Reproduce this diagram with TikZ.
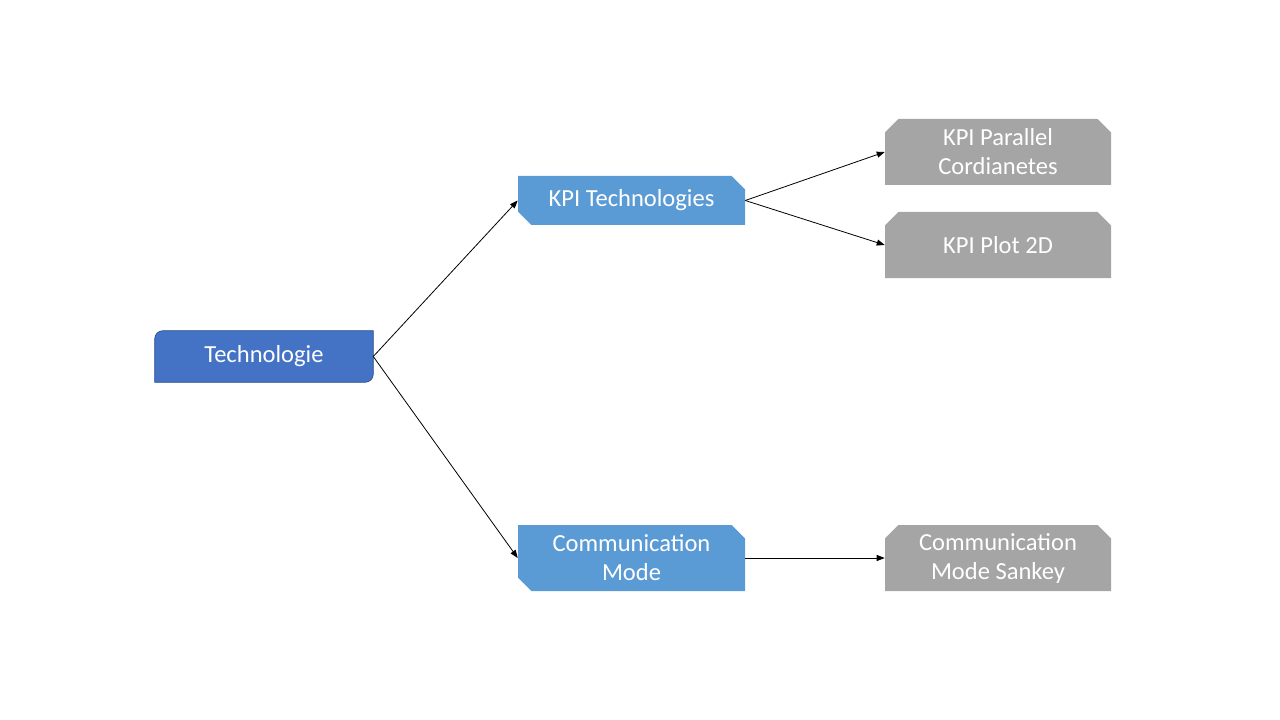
\documentclass[tikz,border=0pt]{standalone}
\usepackage{fontspec}
\setmainfont{Carlito}
\usetikzlibrary{arrows.meta}
\usetikzlibrary{backgrounds}
\usepgflibrary{shapes.misc}
\definecolor{techblue}{HTML}{4472C4}
\definecolor{techedge}{HTML}{2F528F}
\definecolor{kpiblue}{HTML}{5B9BD5}
\definecolor{plotgray}{HTML}{A5A5A5}
\def\bw{227}
\def\bh{66}
\def\rr{6pt}
\tikzset{
    label text/.style = {
        text=white, align=center, font=\fontsize{18.4}{21.75}\selectfont, inner sep=0pt
    },
    Root/.style = {
        label text, minimum width=218*0.75pt, minimum height=51*0.75pt
    },
    Category/.style = {
        label text, chamfered rectangle, chamfered rectangle corners={north east, south west},
        chamfered rectangle xsep=0pt, chamfered rectangle ysep=0pt, chamfered rectangle sep=5pt,
        fill=kpiblue, minimum width=\bw*0.75pt
    },
    Chart/.style = {
        label text, chamfered rectangle, chamfered rectangle corners={north east, north west},
        chamfered rectangle xsep=0pt, chamfered rectangle ysep=0pt, chamfered rectangle sep=5pt,
        fill=plotgray, minimum width=226*0.75pt, minimum height=\bh*0.75pt
    },
    link/.style = {
        -{Triangle[length=6pt,width=4.5pt]}, line width=0.6pt
    },
}

\begin{document}
\begin{tikzpicture}[x=0.75pt, y=-0.75pt]
        \useasboundingbox (0,0) rectangle (1280,720);

        % Place the blocks
        \node[Root] (tech) at (264,356.5) {Technologie};
        \node[Category, minimum height=49*0.75pt] (kpitech) at (631.5,200.5) {KPI Technologies};
        \node[Category, minimum height=\bh*0.75pt] (commmode) at (631.5,558) {Communication\\Mode};
        \node[Chart] (parallel) at (998,152) {KPI Parallel\\Cordianetes};
        \node[Chart] (plot) at (998,245) {KPI Plot 2D};
        \node[Chart] (sankey) at (998,558) {Communication\\Mode Sankey};

        % Root box with two rounded corners
        \begin{scope}[on background layer]
            \filldraw[fill=techblue, draw=techedge, line width=0.5pt]
                ([xshift=\rr]tech.north west) -- (tech.north east)
                -- ([yshift=\rr]tech.south east) arc[start angle=0, end angle=-90, radius=\rr]
                -- (tech.south west)
                -- ([yshift=-\rr]tech.north west) arc[start angle=180, end angle=90, radius=\rr]
                -- cycle;
        \end{scope}

        % Draw connections
        \draw[link] (tech.east) -- (kpitech.west);
        \draw[link] (tech.east) -- (commmode.west);
        \draw[link] (kpitech.east) -- (parallel.west);
        \draw[link] (kpitech.east) -- (plot.west);
        \draw[link] (commmode.east) -- (sankey.west);
\end{tikzpicture}
\end{document}
